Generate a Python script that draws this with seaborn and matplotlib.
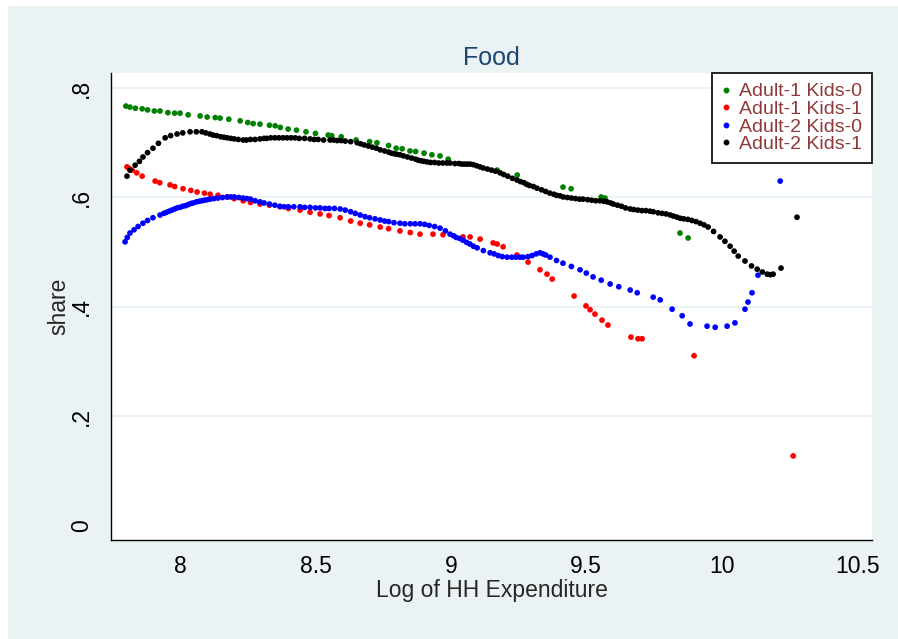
import matplotlib
matplotlib.use("Agg")
import matplotlib.pyplot as plt
from matplotlib.patches import Rectangle
from matplotlib.lines import Line2D
import seaborn as sns
import pandas as pd

# ---------------- data ----------------
a1k0_x = [7.800, 7.815, 7.835, 7.86, 7.88, 7.905, 7.926, 7.955, 7.98, 8.0, 8.03, 8.074,
          8.10, 8.13, 8.148, 8.18, 8.222, 8.25, 8.27, 8.295, 8.33, 8.351, 8.37, 8.399,
          8.43, 8.465, 8.50, 8.547, 8.56, 8.595, 8.65, 8.70, 8.727, 8.77, 8.798, 8.82,
          8.849, 8.87, 8.901, 8.93, 8.960, 8.990, 9.171, 9.245, 9.414, 9.444, 9.555,
          9.569, 9.846, 9.876]
a1k0_y = [.767, .765, .763, .762, .760, .758, .758, .755, .754, .754, .751, .749,
          .747, .746, .745, .743, .740, .737, .735, .734, .732, .731, .728, .725,
          .723, .720, .717, .714, .713, .711, .705, .702, .700, .695, .690, .689,
          .685, .684, .681, .678, .676, .670, .650, .641, .619, .616, .601,
          .599, .535, .526]

a1k1_x = [7.804, 7.812, 7.823, 7.84, 7.860, 7.908, 7.925, 7.963, 7.98, 8.011, 8.04, 8.063,
          8.09, 8.111, 8.14, 8.174, 8.20, 8.233, 8.26, 8.295, 8.33, 8.369, 8.40, 8.443,
          8.48, 8.517, 8.55, 8.591, 8.63, 8.665, 8.70, 8.739, 8.77, 8.812, 8.85, 8.886,
          8.934, 8.971, 9.045, 9.071, 9.108, 9.156, 9.171, 9.193, 9.244, 9.285, 9.329,
          9.355, 9.374, 9.455, 9.499, 9.514, 9.532, 9.558, 9.580, 9.665, 9.691, 9.706,
          9.898, 10.264]
a1k1_y = [.656, .653, .650, .645, .639, .630, .627, .623, .620, .616, .613, .610,
          .608, .606, .604, .601, .598, .594, .591, .588, .586, .583, .580, .577,
          .573, .570, .567, .563, .557, .553, .550, .546, .543, .539, .536, .533,
          .533, .532, .528, .528, .524, .517, .515, .510, .495, .482, .468,
          .460, .451, .420, .402, .395, .387, .376, .367, .345, .342, .342,
          .311, .128]

a2k0_x = [7.797, 7.805, 7.815, 7.83, 7.845, 7.863, 7.88, 7.90, 7.926, 7.94, 7.95, 7.96,
          7.97, 7.98, 7.989, 8.0, 8.01, 8.02, 8.03, 8.04, 8.048, 8.06, 8.07, 8.08,
          8.09, 8.10, 8.111, 8.125, 8.14, 8.157, 8.174, 8.187, 8.20, 8.217, 8.233, 8.247,
          8.26, 8.277, 8.295, 8.31, 8.33, 8.35, 8.369, 8.385, 8.40, 8.42, 8.443, 8.46,
          8.48, 8.50, 8.517, 8.535, 8.55, 8.57, 8.591, 8.61, 8.63, 8.647, 8.665, 8.683,
          8.70, 8.72, 8.739, 8.755, 8.77, 8.79, 8.812, 8.83, 8.85, 8.868, 8.886, 8.903,
          8.92, 8.94, 8.96, 8.98, 8.997, 9.01, 9.02, 9.033, 9.045, 9.058, 9.07, 9.083,
          9.097, 9.12, 9.145, 9.16, 9.175, 9.19, 9.208, 9.225, 9.24, 9.255, 9.267, 9.285,
          9.30, 9.315, 9.329, 9.34, 9.35, 9.366, 9.39, 9.414, 9.445, 9.477, 9.50, 9.525,
          9.555, 9.588, 9.62, 9.662, 9.688, 9.747, 9.773, 9.817, 9.854, 9.883, 9.946,
          9.976, 10.020, 10.049, 10.086, 10.097, 10.112, 10.134, 10.216]
a2k0_y = [.519, .527, .535, .541, .547, .553, .558, .563, .568, .571, .573, .575,
          .577, .579, .581, .582, .584, .585, .587, .589, .590, .592, .593, .594,
          .595, .596, .597, .598, .599, .600, .601, .601, .601, .600, .599, .598,
          .597, .594, .592, .590, .588, .586, .584, .583, .583, .583, .583, .582,
          .582, .581, .581, .580, .580, .580, .579, .577, .574, .571, .568, .565,
          .563, .561, .559, .557, .556, .554, .553, .552, .552, .552, .552, .551,
          .549, .547, .544, .539, .533, .530, .527, .525, .522, .518, .515, .511,
          .508, .503, .499, .497, .494, .492, .491, .491, .491, .491, .491, .492,
          .494, .497, .499, .497, .495, .491, .485, .480, .474, .468, .462, .455,
          .449, .442, .437, .431, .426, .418, .413, .396, .384, .369, .365,
          .363, .365, .371, .396, .409, .426, .458, .630]

a2k1_x = [7.804, 7.815, 7.834, 7.85, 7.863, 7.88, 7.90, 7.92, 7.945, 7.965, 7.989, 8.01,
          8.037, 8.06, 8.081, 8.095, 8.11, 8.122, 8.135, 8.15, 8.162, 8.174, 8.187, 8.20,
          8.215, 8.233, 8.245, 8.26, 8.277, 8.295, 8.31, 8.32, 8.335, 8.35, 8.365, 8.38,
          8.395, 8.41, 8.425, 8.44, 8.46, 8.48, 8.495, 8.51, 8.53, 8.554, 8.567, 8.58,
          8.595, 8.61, 8.63, 8.654, 8.667, 8.68, 8.695, 8.71, 8.725, 8.739, 8.755, 8.77,
          8.78, 8.79, 8.80, 8.812, 8.825, 8.84, 8.855, 8.87, 8.88, 8.89, 8.90, 8.912,
          8.925, 8.94, 8.955, 8.97, 8.985, 8.997, 9.015, 9.03, 9.04, 9.05, 9.06, 9.071,
          9.083, 9.095, 9.107, 9.119, 9.135, 9.15, 9.165, 9.182, 9.195, 9.21, 9.227, 9.244,
          9.257, 9.27, 9.28, 9.29, 9.305, 9.318, 9.335, 9.35, 9.365, 9.38, 9.39, 9.403,
          9.415, 9.43, 9.445, 9.46, 9.475, 9.488, 9.505, 9.52, 9.535, 9.55, 9.565, 9.577,
          9.59, 9.60, 9.615, 9.63, 9.645, 9.662, 9.675, 9.69, 9.705, 9.72, 9.735, 9.747,
          9.765, 9.78, 9.795, 9.81, 9.822, 9.835, 9.847, 9.86, 9.875, 9.89, 9.905, 9.92,
          9.935, 9.95, 9.97, 9.994, 10.012, 10.031, 10.046, 10.061, 10.086, 10.11, 10.131,
          10.15, 10.168, 10.18, 10.19, 10.219, 10.278]
a2k1_y = [.639, .650, .659, .666, .674, .682, .690, .699, .709, .713, .716, .718,
          .720, .720, .720, .718, .716, .714, .713, .711, .710, .709, .708, .707,
          .706, .705, .705, .706, .706, .707, .708, .708, .709, .709, .709, .709,
          .709, .709, .709, .708, .708, .707, .706, .706, .705, .705, .705, .704,
          .704, .703, .702, .700, .698, .696, .694, .692, .690, .687, .685, .683,
          .681, .680, .679, .678, .676, .674, .672, .670, .668, .667, .666, .665,
          .664, .664, .663, .663, .663, .663, .662, .662, .661, .661, .661, .661,
          .660, .658, .656, .654, .652, .650, .648, .645, .642, .639, .635, .632,
          .629, .627, .624, .622, .620, .617, .614, .611, .608, .606, .604, .603,
          .601, .600, .599, .598, .597, .597, .596, .595, .594, .594, .593, .592,
          .590, .588, .586, .584, .581, .579, .578, .577, .576, .576, .575, .574,
          .572, .571, .570, .568, .566, .564, .562, .561, .560, .558, .556, .553,
          .550, .546, .538, .528, .520, .511, .502, .493, .484, .475, .469,
          .464, .460, .459, .460, .471, .564]

groups = ["Adult-1 Kids-0", "Adult-1 Kids-1", "Adult-2 Kids-0", "Adult-2 Kids-1"]
colors = ["#008000", "#FF0000", "#0000FF", "#000000"]

x_ticks = [8, 8.5, 9, 9.5, 10, 10.5]
x_tick_labels = ["8", "8.5", "9", "9.5", "10", "10.5"]
y_ticks = [0, 0.2, 0.4, 0.6, 0.8]
y_tick_labels = ["0", ".2", ".4", ".6", ".8"]

# ---------------- build long table ----------------
frames = []
for g, xs, ys in zip(groups, [a1k0_x, a1k1_x, a2k0_x, a2k1_x], [a1k0_y, a1k1_y, a2k0_y, a2k1_y]):
    frames.append(pd.DataFrame({"x": xs, "y": ys, "group": g}))
df = pd.concat(frames, ignore_index=True)

# ---------------- style ----------------
sns.set_style("white")
plt.rcParams["font.family"] = ["Liberation Sans", "DejaVu Sans"]

W, H = 898, 639
fig = plt.figure(figsize=(W / 100, H / 100), dpi=100, facecolor="white")
bg = Rectangle((8 / W, 0), 1 - 8 / W, 1 - 6 / H, transform=fig.transFigure,
               facecolor="#EAF2F3", edgecolor="none", zorder=-10)
fig.add_artist(bg)

L, R, T, B = 111, 872, 73, 540
ax = fig.add_axes([L / W, (H - B) / H, (R - L) / W, (B - T) / H])
ax.set_zorder(1)
ax.set_facecolor("white")

for yv in [0.2, 0.4, 0.6, 0.8]:
    ax.axhline(yv, color="#EAF2F3", lw=1.6, zorder=0)

sns.scatterplot(data=df, x="x", y="y", hue="group", hue_order=groups,
                palette=colors, s=17, linewidth=0, ax=ax, legend=False, zorder=3)

ax.set_xlim(7.745, 10.555)
ax.set_ylim(-0.0256, 0.8274)
ax.set_xticks(x_ticks)
ax.set_xticklabels(x_tick_labels)
ax.set_yticks(y_ticks)
ax.set_yticklabels(y_tick_labels, rotation=90, va="center")

for s in ["top", "right"]:
    ax.spines[s].set_visible(False)
for s in ["left", "bottom"]:
    ax.spines[s].set_color("black")
    ax.spines[s].set_linewidth(1.0)

ax.tick_params(axis="both", direction="out", length=7, width=0.9, color="black",
               labelsize=16.5, labelcolor="black")
ax.tick_params(axis="x", pad=3.5)
ax.tick_params(axis="y", pad=6)

ax.set_xlabel("Log of HH Expenditure", fontsize=16.5, labelpad=1)
ax.set_ylabel("share", fontsize=16.5)
ax.yaxis.set_label_coords(-0.053, 0.5)
ax.set_title("Food", fontsize=18, color="#1A476F", pad=6)

handles = [Line2D([], [], marker="o", linestyle="none", color=c, markersize=3.2) for c in colors]
leg = ax.legend(handles, groups, loc="upper right", bbox_to_anchor=(1.0, 1.0),
                borderaxespad=0.0, frameon=True, fancybox=False, framealpha=1,
                edgecolor="black", labelcolor="#8F3A3A",
                handlelength=0.4, handletextpad=0.5, labelspacing=0.0,
                borderpad=0.5, prop={"family": ["Liberation Sans", "DejaVu Sans"], "size": 14})
leg.get_frame().set_linewidth(1.2)
leg.set_zorder(5)

fig.savefig("out.png", dpi=100, facecolor="white")
